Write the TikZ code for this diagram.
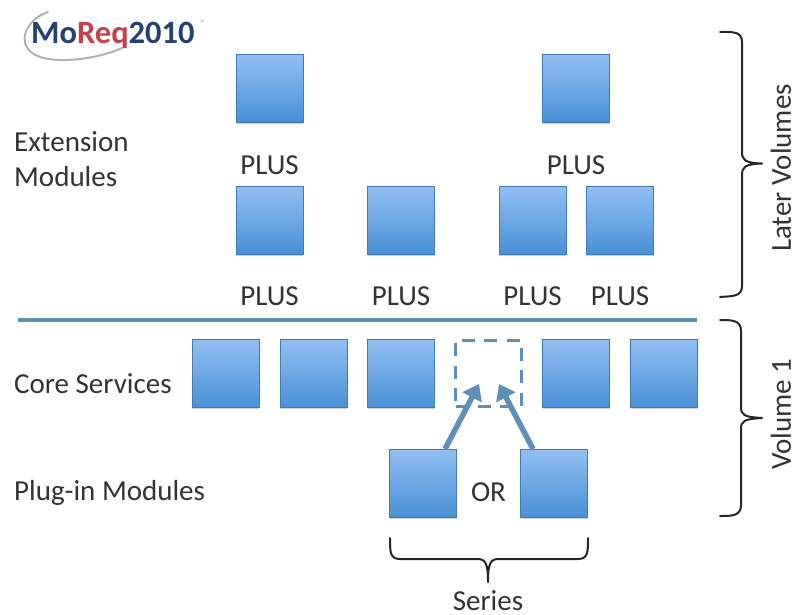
\documentclass[tikz,border=0pt]{standalone}
\usepackage{fontspec}
\setmainfont{Carlito}
\usetikzlibrary{shadows,arrows.meta}
\definecolor{boxtop}{HTML}{92BFF3}
\definecolor{boxbot}{HTML}{4A90D6}
\definecolor{linecol}{HTML}{5F8FB8}
\definecolor{txt}{HTML}{333333}
\definecolor{lognavy}{HTML}{26406F}
\definecolor{logred}{HTML}{C8404F}
\tikzset{
  mod/.style={minimum width=67pt,minimum height=68pt,inner sep=0pt,top color=boxtop,bottom color=boxbot,draw=boxbot!85!black,line width=.5pt,
    drop shadow={shadow xshift=0pt,shadow yshift=-1.5pt,opacity=.3,fill=black!60}},
  slot/.style={minimum width=66pt,minimum height=66pt,inner sep=0pt,draw=linecol,line width=3.5pt,dash pattern=on 13pt off 9.3pt},
  lbl/.style={inner sep=0pt,text=txt,font=\fontsize{29}{35}\selectfont},
  leftlbl/.style={lbl,anchor=west,align=left},
  brace/.style={draw=black!85,line width=2pt,line cap=round,line join=round},
  arrowline/.style={draw=linecol,line width=5.5pt,-{Triangle[length=15pt,width=21pt]}},
}
\begin{document}
\begin{tikzpicture}[x=1pt,y=-1pt]
\useasboundingbox (0,0) rectangle (794,614);
% logo
\draw[black!30,line width=2pt,line cap=round] (48,12) .. controls (24,20) and (14,48) .. (40,57) .. controls (62,64) and (100,58) .. (122,48);
\node[inner sep=0pt,anchor=west,font=\bfseries\fontsize{32.5}{34}\selectfont] (logo) at (31,35) {\textcolor{lognavy}{Mo}\textcolor{logred}{Req}\textcolor{lognavy}{2010}};
\node[inner sep=0pt,text=black!50,font=\fontsize{8}{9}\selectfont] (reg) at (203,23) {®};
% modules
\node[mod] (e1) at (269.5,88) {};
\node[mod] (e2) at (576,88) {};
\node[mod] (x1) at (269.5,220) {};
\node[mod] (x2) at (401,220) {};
\node[mod] (x3) at (532.5,220) {};
\node[mod] (x4) at (620,220) {};
\node[mod] (c1) at (225.5,373.5) {};
\node[mod] (c2) at (313.5,373.5) {};
\node[mod] (c3) at (401,373.5) {};
\node[slot] (c4) at (488.5,373.5) {};
\node[mod] (c5) at (576,373.5) {};
\node[mod] (c6) at (664,373.5) {};
\node[mod] (p1) at (423,483) {};
\node[mod] (p2) at (554,483) {};
% rule
\coordinate (ruleL) at (18,320);
\coordinate (ruleR) at (697,320);
\draw[linecol,line width=4pt] (ruleL) -- (ruleR);
% arrows
\coordinate (t1) at (479,384);
\coordinate (t2) at (499,384);
\coordinate (s1) at (445,449);
\coordinate (s2) at (533,449);
\draw[arrowline] (s1) -- (t1);
\draw[arrowline] (s2) -- (t2);
% labels
\node[lbl] (l1) at (269.5,165) {PLUS};
\node[lbl] (l2) at (576,165) {PLUS};
\node[lbl] (l3) at (269.5,296) {PLUS};
\node[lbl] (l4) at (401,296) {PLUS};
\node[lbl] (l5) at (532.5,296) {PLUS};
\node[lbl] (l6) at (620,296) {PLUS};
\node[lbl] (orl) at (488.5,492) {OR};
\node[leftlbl] (ext) at (14,159) {Extension\\Modules};
\node[leftlbl] (core) at (14,384) {Core Services};
\node[leftlbl] (plug) at (14,493) {Plug-in Modules};
\node[lbl] (ser) at (488,601) {Series};
\node[lbl,rotate=90] (lv) at (781,168) {Later Volumes};
\node[lbl,rotate=90] (v1) at (781,414) {Volume 1};
% braces
\draw[brace] (720,32) .. controls (732,32) and (742,31) .. (742,42) -- (742,152) .. controls (742,160) and (745,163) .. (762,163.5)
  .. controls (745,164) and (742,167) .. (742,175) -- (742,286) .. controls (742,297) and (732,296) .. (720,297);
\draw[brace] (720,320) .. controls (732,320) and (741,320) .. (741,331) -- (741,407) .. controls (741,415) and (744,417) .. (762,418)
  .. controls (744,419) and (741,421) .. (741,429) -- (741,505) .. controls (741,516) and (732,516) .. (720,516);
\draw[brace] (390,538) .. controls (390,552) and (390,559) .. (400,559) -- (477,559) .. controls (485,559) and (488,562) .. (488,582)
  .. controls (488,562) and (491,559) .. (499,559) -- (578,559) .. controls (588,559) and (588,552) .. (588,538);
\end{tikzpicture}
\end{document}
